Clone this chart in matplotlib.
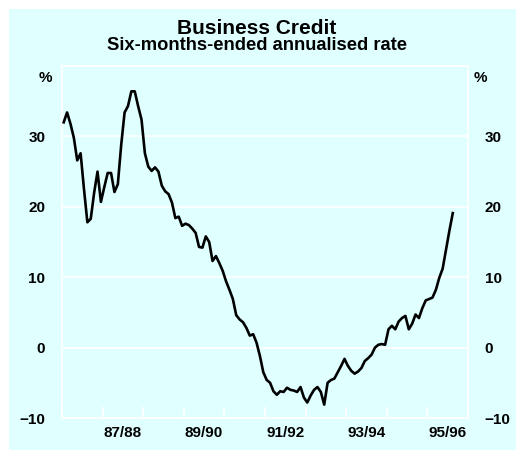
# Business credit: six-months-ended annualised rate
import numpy as np
import matplotlib.pyplot as plt
from matplotlib.patches import Rectangle

plt.rcParams['font.family'] = ['Liberation Sans', 'DejaVu Sans']
plt.rcParams['font.weight'] = 'bold'

# monthly readings, Jul 1986 .. Feb 1996
start_year = 1986.5
credit = [32.0, 33.4, 31.8, 29.8, 26.6, 27.6, 22.5, 17.8, 18.3, 22.0,
          25.0, 20.7, 22.8, 24.8, 24.8, 22.1, 23.2, 28.8, 33.4, 34.3,
          36.4, 36.4, 34.3, 32.4, 27.6, 25.7, 25.1, 25.6, 25.0, 23.0,
          22.2, 21.8, 20.6, 18.4, 18.6, 17.3, 17.6, 17.4, 16.9, 16.3,
          14.3, 14.2, 15.8, 15.0, 12.3, 13.0, 12.0, 10.9, 9.4, 8.2,
          6.9, 4.6, 4.0, 3.6, 2.8, 1.7, 1.9, 0.7, -1.2, -3.5,
          -4.6, -5.0, -6.2, -6.7, -6.2, -6.3, -5.7, -6.0, -6.1, -6.3,
          -5.6, -7.1, -7.8, -6.8, -6.0, -5.6, -6.3, -8.1, -5.0, -4.6,
          -4.4, -3.5, -2.6, -1.6, -2.6, -3.3, -3.7, -3.4, -2.9, -1.9,
          -1.5, -1.0, 0.0, 0.4, 0.5, 0.4, 2.6, 3.1, 2.6, 3.7,
          4.2, 4.5, 2.6, 3.4, 4.7, 4.2, 5.6, 6.7, 6.9, 7.1,
          8.2, 9.9, 11.2, 13.9, 16.6, 19.1]

year_ticks = [1986.5 + k for k in range(11)]
label_pos = [1988.0, 1990.0, 1992.0, 1994.0, 1996.0]
label_txt = ['87/88', '89/90', '91/92', '93/94', '95/96']
y_ticks = [-10, 0, 10, 20, 30]

bg = '#E0FFFF'

fig = plt.figure(figsize=(5.16, 4.5), dpi=100)
fig.patch.set_facecolor('white')
fig.add_artist(Rectangle((9 / 516, 0), 1, 441 / 450, transform=fig.transFigure,
                         facecolor=bg, edgecolor='none', zorder=-10))

ax = fig.add_axes([62 / 516, 32 / 450, 406 / 516, 352 / 450])
ax.set_facecolor(bg)

x = [start_year + (i + 0.5) / 12 for i in range(len(credit))]
ax.plot(x, credit, color='black', lw=1.9, zorder=3)

ax.set_xlim(1986.5, 1996.5)
ax.set_ylim(-10, 40)

for s in ax.spines.values():
    s.set_color('white')
    s.set_linewidth(1.2)

ax.set_yticks(y_ticks)
ax.grid(axis='y', color='white', lw=1.2, zorder=1)
ax.tick_params(axis='y', length=0, labelsize=11, pad=12,
               labelleft=True, labelright=True)

ax.set_xticks(year_ticks)
ax.set_xticklabels([])
ax.tick_params(axis='x', which='major', direction='in', length=8,
               color='white', width=1.2)
ax.set_xticks(label_pos, minor=True)
ax.set_xticklabels(label_txt, minor=True)
ax.tick_params(axis='x', which='minor', length=0, labelsize=11, pad=6)

fig.text(45 / 516, 1 - 78 / 450, '%', ha='center', va='center', fontsize=11)
fig.text(480 / 516, 1 - 78 / 450, '%', ha='center', va='center', fontsize=11)

fig.text(257 / 516, 1 - 28 / 450, 'Business Credit', ha='center', va='center',
         fontsize=15)
fig.text(257 / 516, 1 - 46 / 450, 'Six-months-ended annualised rate',
         ha='center', va='center', fontsize=13.2)

fig.savefig('out.png', dpi=100, facecolor=fig.get_facecolor())
